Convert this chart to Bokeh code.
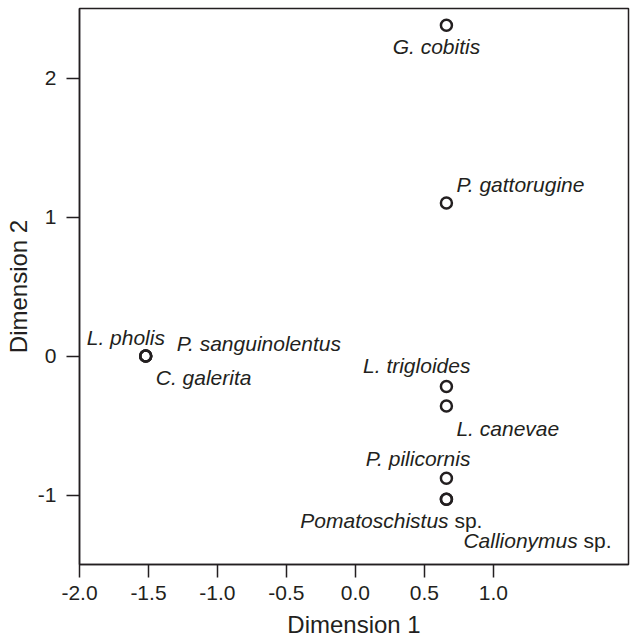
from bokeh.plotting import figure
from bokeh.models import ColumnDataSource, Range1d, FixedTicker
from bokeh.core.properties import value
from bokeh.embed import file_html
from bokeh.resources import INLINE

# ---- data ----
species = ["G. cobitis", "P. gattorugine", "L. pholis", "P. sanguinolentus", "C. galerita",
           "L. trigloides", "L. canevae", "P. pilicornis", "Pomatoschistus", "Callionymus"]
suffix = ["", "", "", "", "", "", "", "", "sp.", "sp."]
dim1 = [0.66, 0.66, -1.52, -1.52, -1.52, 0.66, 0.66, 0.66, 0.66, 0.66]
dim2 = [2.38, 1.10, 0.0, 0.0, 0.0, -0.22, -0.36, -0.88, -1.03, -1.03]
x_ticks = [-2.0, -1.5, -1.0, -0.5, 0.0, 0.5, 1.0]
y_ticks = [-1, 0, 1, 2]

# ---- label layout (pixel offsets from each point) ----
lab_dx = [-10, 10, -59, 31, 10, 24, 10, 24, 36, 17]
lab_dy = [21, -19, -19, -13, 21, -21, 22, -20, 21, 41]
lab_align = ["center", "left", "left", "left", "left", "right", "left", "right", "right", "left"]

FONT = "Liberation Sans"
FS = 21
INK = "#231f20"

# Arial/Liberation advance widths (per 1000 em)
ADV = {"s": 500, "p": 556, ".": 278, " ": 278, "C": 722, "a": 556, "l": 222, "i": 222,
       "o": 556, "n": 556, "y": 500, "m": 833, "u": 556}


def text_width(s):
    return sum(ADV[c] for c in s) / 1000 * FS


italic_dx = []
suf_dx = []
for t, sfx, dx, al in zip(species, suffix, lab_dx, lab_align):
    if sfx and al == "right":
        italic_dx.append(dx - text_width(" " + sfx))
        suf_dx.append(dx)
    elif sfx and al == "left":
        italic_dx.append(dx)
        suf_dx.append(dx + text_width(t + " "))
    else:
        italic_dx.append(dx)
        suf_dx.append(dx)

src = ColumnDataSource(dict(x=dim1, y=dim2, name=species, sfx=suffix,
                            dx=italic_dx, sdx=suf_dx, dy=lab_dy, align=lab_align))

p = figure(width=630, height=642, output_backend="svg", toolbar_location=None,
           x_range=Range1d(-2.0, 1.98), y_range=Range1d(-1.5, 2.5),
           min_border_left=79, min_border_right=2, min_border_top=8, min_border_bottom=78)
p.background_fill_color = "white"
p.border_fill_color = "white"
p.outline_line_color = INK
p.outline_line_width = 1.5
p.grid.visible = False

p.scatter("x", "y", source=src, size=11, fill_color=None, line_color=INK, line_width=2.5)

p.text("x", "y", text="name", source=src, x_offset="dx", y_offset="dy",
       text_align="align", text_baseline="middle",
       text_font=value(FONT), text_font_style="italic", text_font_size=f"{FS}px",
       text_color=INK)
p.text("x", "y", text="sfx", source=src, x_offset="sdx", y_offset="dy",
       text_align="align", text_baseline="middle",
       text_font=value(FONT), text_font_size=f"{FS}px", text_color=INK)

for ax in (p.xaxis[0], p.yaxis[0]):
    ax.axis_line_color = INK
    ax.axis_line_width = 1.5
    ax.major_tick_line_color = INK
    ax.major_tick_line_width = 1.5
    ax.major_tick_out = 13
    ax.major_tick_in = 0
    ax.minor_tick_line_color = None
    ax.major_label_text_font = FONT
    ax.major_label_text_font_size = "21px"
    ax.major_label_text_color = INK
    ax.axis_label_text_font = FONT
    ax.axis_label_text_font_size = "24px"
    ax.axis_label_text_font_style = "normal"
    ax.axis_label_text_color = INK

p.xaxis.ticker = FixedTicker(ticks=x_ticks)
p.xaxis.major_label_overrides = {t: f"{t:.1f}" for t in x_ticks}
p.xaxis.major_label_standoff = 8
p.xaxis.axis_label = "Dimension 1"
p.xaxis.axis_label_standoff = 8

p.yaxis.ticker = FixedTicker(ticks=y_ticks)
p.yaxis.major_label_overrides = {t: str(t) for t in y_ticks}
p.yaxis.major_label_standoff = 10
p.yaxis.axis_label = "Dimension 2"
p.yaxis.axis_label_standoff = 3

open("out.html", "w").write(file_html(p, INLINE))
